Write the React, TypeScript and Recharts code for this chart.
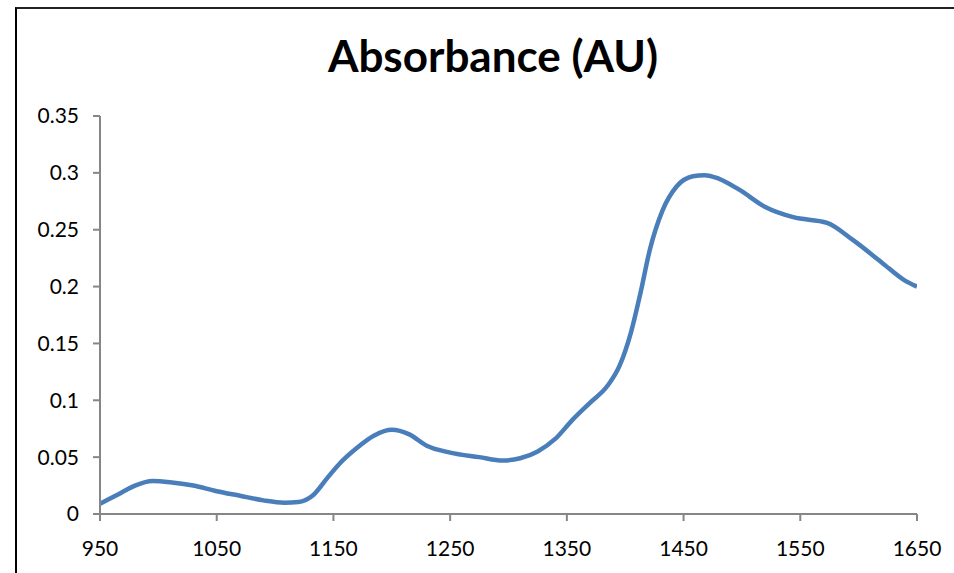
import React from 'react';
import { LineChart, Line, XAxis, YAxis } from 'recharts';

// wavelength (nm) and absorbance
const wavelengths = [
  950, 965, 980, 995, 1010, 1030, 1050, 1070, 1090, 1108, 1120, 1132, 1145, 1155, 1170, 1185,
  1200, 1215, 1230, 1250, 1275, 1295, 1310, 1325, 1340, 1355, 1370, 1385, 1395, 1405, 1413,
  1421, 1432, 1444, 1458, 1468, 1480, 1498, 1520, 1544, 1573, 1595, 1620, 1640, 1650,
];
const absorbance = [
  0.009, 0.017, 0.025, 0.029, 0.028, 0.025, 0.020, 0.016, 0.012, 0.010, 0.0105, 0.016, 0.032,
  0.044, 0.058, 0.069, 0.074, 0.070, 0.060, 0.054, 0.050, 0.047, 0.049, 0.055, 0.066, 0.083,
  0.098, 0.113, 0.130, 0.160, 0.194, 0.232, 0.267, 0.288, 0.297, 0.298, 0.295, 0.285, 0.270,
  0.261, 0.256, 0.241, 0.221, 0.205, 0.200,
];
const xTicks = [950, 1050, 1150, 1250, 1350, 1450, 1550, 1650];
const yTicks = [0, 0.05, 0.1, 0.15, 0.2, 0.25, 0.3, 0.35];

const data = wavelengths.map((wl, i) => ({ wl, value: absorbance[i] }));

const font = 'Lato, "Open Sans", sans-serif';
const tickStyle = { fill: '#000', fontSize: 21, fontFamily: font };
const axisColor = '#868686';

export default function App() {
  return (
    <div style={{ position: 'absolute', left: 0, top: 0, width: 954, height: 573, background: '#fff', overflow: 'hidden' }}>
      {/* chart frame (only top and left edges visible) */}
      <div style={{ position: 'absolute', left: 15, top: 7, right: -10, bottom: -10, borderTop: '2px solid #222', borderLeft: '2px solid #000' }} />
      <svg width={954} height={100} style={{ position: 'absolute', left: 0, top: 0 }}>
        <text x={493} y={72} textAnchor="middle" fontFamily={font} fontWeight="bold" fontSize={44} fill="#000">
          Absorbance (AU)
        </text>
      </svg>
      <div style={{ position: 'absolute', left: 0, top: 0 }}>
        <LineChart width={954} height={573} data={data} margin={{ top: 116, right: 37, bottom: 19, left: 20 }}>
          <XAxis
            dataKey="wl"
            type="number"
            domain={[950, 1650]}
            ticks={xTicks}
            interval={0}
            height={40}
            tickSize={7}
            tickMargin={20}
            tick={tickStyle}
            stroke={axisColor}
            strokeWidth={2}
            allowDataOverflow
          />
          <YAxis
            type="number"
            domain={[0, 0.35]}
            ticks={yTicks}
            interval={0}
            width={80}
            tickSize={7}
            tickMargin={14}
            tick={tickStyle}
            stroke={axisColor}
            strokeWidth={2}
            allowDataOverflow
          />
          <Line
            type="monotone"
            dataKey="value"
            stroke="#4a7ebb"
            strokeWidth={4.5}
            dot={false}
            isAnimationActive={false}
          />
        </LineChart>
      </div>
    </div>
  );
}
